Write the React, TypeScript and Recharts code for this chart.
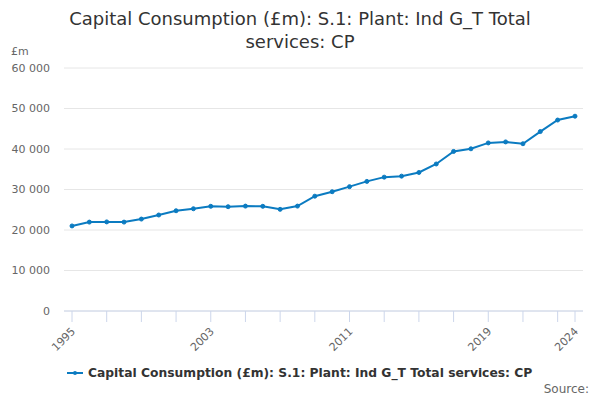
import React from "react";
import { LineChart, Line, XAxis, YAxis, CartesianGrid } from "recharts";

const years = [1995, 1996, 1997, 1998, 1999, 2000, 2001, 2002, 2003, 2004, 2005, 2006, 2007, 2008, 2009, 2010, 2011, 2012, 2013, 2014, 2015, 2016, 2017, 2018, 2019, 2020, 2021, 2022, 2023, 2024];
const values = [21000, 21950, 22000, 21950, 22700, 23700, 24750, 25250, 25850, 25750, 25900, 25850, 25100, 25900, 28350, 29450, 30700, 32000, 33050, 33300, 34200, 36300, 39400, 40050, 41500, 41750, 41300, 44300, 47150, 48100];
const xTicks = [1995, 1997, 1999, 2001, 2003, 2005, 2007, 2009, 2011, 2013, 2015, 2017, 2019, 2021, 2023, 2024];
const xLabels = [1995, 2003, 2011, 2019, 2024];
const yTicks = [0, 10000, 20000, 30000, 40000, 50000, 60000];

const seriesName = "Capital Consumption (£m): S.1: Plant: Ind G_T Total services: CP";
const COLOR = "#0b7bc1";
const FONT = "'DejaVu Sans', sans-serif";

const data = years.map((y, i) => ({ year: y, value: values[i] }));

const fmt = (v: number) => v.toLocaleString("en-US").replace(/,/g, " ");

const XTick = (props: any) => {
  const { x, y, payload } = props;
  if (!xLabels.includes(payload.value)) return null;
  return (
    <text
      x={x + 4}
      y={y + 8}
      transform={`rotate(-45 ${x + 4} ${y + 8})`}
      textAnchor="end"
      fill="#666666"
      fontSize={11}
      fontFamily={FONT}
    >
      {payload.value}
    </text>
  );
};

export default function App() {
  return (
    <div style={{ position: "absolute", left: 0, top: 0, width: 600, height: 400, background: "#fff", fontFamily: FONT }}>
      <div style={{ position: "absolute", left: 40, top: 7, width: 520, textAlign: "center", fontSize: 18, lineHeight: "23px", color: "#333333" }}>
        {seriesName}
      </div>
      <div style={{ position: "absolute", left: 11, top: 45, fontSize: 11, color: "#666666" }}>£m</div>
      <LineChart width={600} height={400} data={data} margin={{ top: 68, right: 17, bottom: 39, left: 0 }}>
        <CartesianGrid vertical={false} stroke="#e6e6e6" />
        <XAxis
          dataKey="year"
          type="number"
          domain={[1995, 2024]}
          ticks={xTicks}
          interval={0}
          padding={{ left: 8, right: 8 }}
          stroke="#ccd6eb"
          tickLine={{ stroke: "#ccd6eb" }}
          tickSize={11}
          tick={<XTick />}
          height={50}
        />
        <YAxis
          domain={[0, 60000]}
          ticks={yTicks}
          width={64}
          axisLine={false}
          tickLine={false}
          tickSize={6}
          tickMargin={8}
          tickFormatter={fmt}
          tick={{ fill: "#666666", fontSize: 11, fontFamily: FONT }}
        />
        <Line
          type="linear"
          dataKey="value"
          stroke={COLOR}
          strokeWidth={2}
          dot={{ r: 2, fill: COLOR, stroke: COLOR, strokeWidth: 1 }}
          isAnimationActive={false}
        />
      </LineChart>
      <div style={{ position: "absolute", left: 67, top: 366, display: "flex", alignItems: "center", fontSize: 12.3, fontWeight: "bold", color: "#333333" }}>
        <svg width={16} height={10} style={{ marginRight: 5 }}>
          <line x1={0} y1={5} x2={16} y2={5} stroke={COLOR} strokeWidth={2} />
          <circle cx={8} cy={5} r={2} fill={COLOR} />
        </svg>
        <span>{seriesName}</span>
      </div>
      <div style={{ position: "absolute", right: 11, top: 382, fontSize: 12, color: "#666666" }}>Source:</div>
    </div>
  );
}
